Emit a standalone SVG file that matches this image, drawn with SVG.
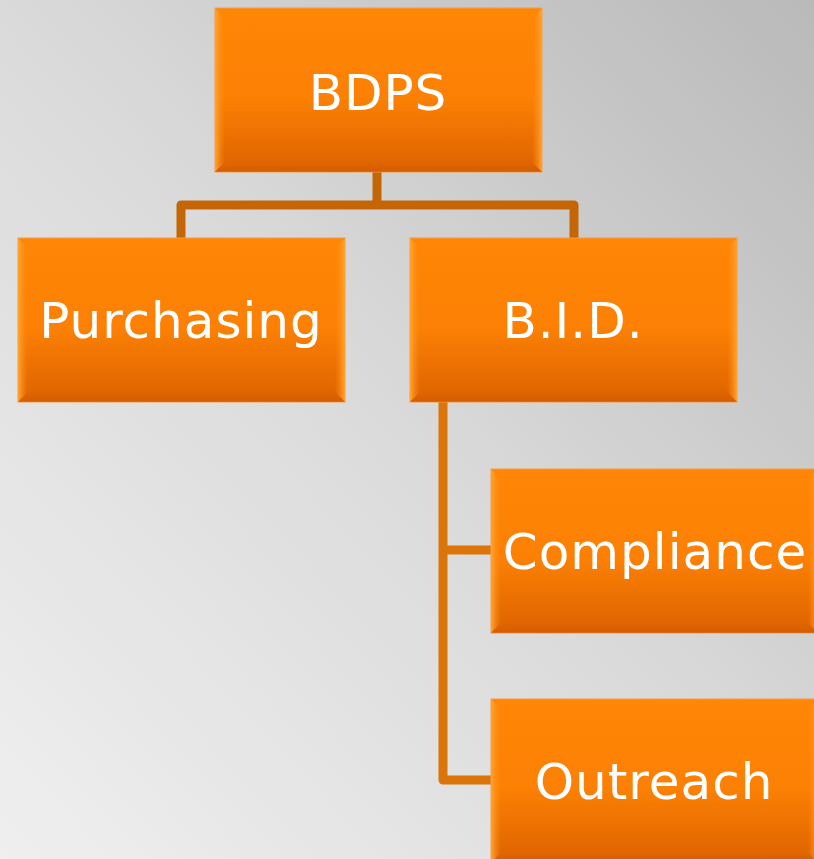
<svg xmlns="http://www.w3.org/2000/svg" width="814" height="859" viewBox="0 0 814 859">
<defs>
<linearGradient id="bg" x1="0" y1="1" x2="1" y2="0">
<stop offset="0" stop-color="#efefef"/>
<stop offset="0.5" stop-color="#dadada"/>
<stop offset="1" stop-color="#b9b9b9"/>
</linearGradient>
<linearGradient id="face" x1="0" y1="0" x2="0" y2="1">
<stop offset="0" stop-color="#ff8606"/>
<stop offset="0.55" stop-color="#fb8004"/>
<stop offset="1" stop-color="#dd6200"/>
</linearGradient>
<linearGradient id="edgeL" x1="0" y1="0" x2="1" y2="0">
<stop offset="0" stop-color="#ffa530"/>
<stop offset="1" stop-color="#ff8a10" stop-opacity="0"/>
</linearGradient>
<linearGradient id="edgeR" x1="1" y1="0" x2="0" y2="0">
<stop offset="0" stop-color="#ffa530"/>
<stop offset="1" stop-color="#ff8a10" stop-opacity="0"/>
</linearGradient>
<linearGradient id="edgeB" x1="0" y1="1" x2="0" y2="0">
<stop offset="0" stop-color="#d05a00"/>
<stop offset="1" stop-color="#d05a00" stop-opacity="0"/>
</linearGradient>
<symbol id="box" viewBox="0 0 327 164" width="327" height="164" overflow="visible">
<rect x="0" y="0" width="327" height="164" fill="url(#face)" stroke="#f39a4a" stroke-width="1"/>
<polygon points="0,0 10,10 10,154 0,164" fill="url(#edgeL)"/>
<polygon points="327,0 317,10 317,154 327,164" fill="url(#edgeR)"/>
<polygon points="0,164 10,154 317,154 327,164" fill="url(#edgeB)" opacity="0.6"/>
</symbol>
</defs>
<style>
.lbl{font-family:"DejaVu Sans","Liberation Sans",sans-serif;font-size:50px;fill:#ffffff;text-anchor:middle;letter-spacing:1px}
.c1{fill:none;stroke:#c46606;stroke-width:9;stroke-linejoin:round;stroke-linecap:round}
.c2{fill:none;stroke:#db7409;stroke-width:9;stroke-linejoin:round;stroke-linecap:round}
</style>
<rect x="0" y="0" width="814" height="859" fill="url(#bg)"/>
<g id="connectors">
<path class="c1" d="M377,170 V205 M181,238 V205 H574 V238"/>
<path class="c2" d="M443,400 V780 H493 M443,550 H493"/>
</g>
<g id="node-bdps">
<use href="#box" x="215" y="8"/>
<text class="lbl" x="378" y="110">BDPS</text>
</g>
<g id="node-purchasing">
<use href="#box" x="18" y="238"/>
<text class="lbl" x="181" y="338">Purchasing</text>
</g>
<g id="node-bid">
<use href="#box" x="410" y="238"/>
<text class="lbl" x="573" y="338">B.I.D.</text>
</g>
<g id="node-compliance">
<use href="#box" x="491" y="469"/>
<text class="lbl" x="655" y="569">Compliance</text>
</g>
<g id="node-outreach">
<use href="#box" x="491" y="699"/>
<text class="lbl" x="654" y="799">Outreach</text>
</g>
</svg>
